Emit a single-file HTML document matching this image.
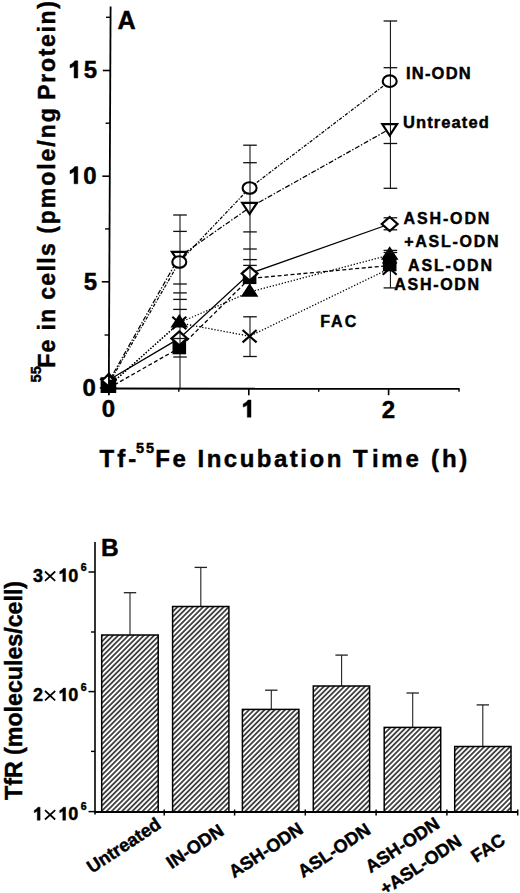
<!DOCTYPE html>
<html><head><meta charset="utf-8"><style>
html,body{margin:0;padding:0;background:#fff;width:520px;height:893px;overflow:hidden}
svg{display:block}
</style></head><body>
<svg width="520" height="893" viewBox="0 0 520 893">
<rect width="520" height="893" fill="#fff"/>
<line x1="110.59" y1="6.6" x2="108.80" y2="389.5" stroke="#000" stroke-width="1.8"/>
<line x1="102.79" y1="70.5" x2="110.29" y2="70.5" stroke="#000" stroke-width="1.6"/>
<line x1="102.30" y1="176.2" x2="109.80" y2="176.2" stroke="#000" stroke-width="1.6"/>
<line x1="101.80" y1="281.8" x2="109.30" y2="281.8" stroke="#000" stroke-width="1.6"/>
<line x1="106.04" y1="17.3" x2="110.54" y2="17.3" stroke="#000" stroke-width="1.4"/>
<line x1="105.55" y1="123.2" x2="110.05" y2="123.2" stroke="#000" stroke-width="1.4"/>
<line x1="105.05" y1="228.9" x2="109.55" y2="228.9" stroke="#000" stroke-width="1.4"/>
<line x1="104.55" y1="335.0" x2="109.05" y2="335.0" stroke="#000" stroke-width="1.4"/>
<line x1="108" y1="388.6" x2="459.5" y2="388.8" stroke="#000" stroke-width="2"/>
<line x1="108.8" y1="388.6" x2="108.8" y2="395.2" stroke="#000" stroke-width="1.6"/>
<line x1="248.8" y1="388.6" x2="248.8" y2="395.2" stroke="#000" stroke-width="1.6"/>
<line x1="388.6" y1="388.6" x2="388.6" y2="395.2" stroke="#000" stroke-width="1.6"/>
<line x1="178.8" y1="388.6" x2="178.8" y2="391.8" stroke="#000" stroke-width="1.4"/>
<line x1="318.7" y1="388.6" x2="318.7" y2="391.8" stroke="#000" stroke-width="1.4"/>
<line x1="459" y1="388.6" x2="459" y2="391.8" stroke="#000" stroke-width="1.4"/>
<path d="M77.80,78.00 L74.08,78.00 L74.08,65.88 C72.76,66.96 71.32,67.56 70.00,67.92 L70.00,64.68 C72.04,63.96 73.72,62.64 74.80,60.82 L77.80,60.82 Z" fill="#000" stroke="#000" stroke-width="0.45"/>
<text x="83.8" y="78.2" font-family="Liberation Sans" font-weight="bold" stroke="#000" stroke-width="0.45" font-size="24">5</text>
<path d="M77.80,183.80 L74.08,183.80 L74.08,171.68 C72.76,172.76 71.32,173.36 70.00,173.72 L70.00,170.48 C72.04,169.76 73.72,168.44 74.80,166.62 L77.80,166.62 Z" fill="#000" stroke="#000" stroke-width="0.45"/>
<text x="83.2" y="184.1" font-family="Liberation Sans" font-weight="bold" stroke="#000" stroke-width="0.45" font-size="24">0</text>
<text x="83.8" y="290.3" font-family="Liberation Sans" font-weight="bold" stroke="#000" stroke-width="0.45" font-size="24">5</text>
<text x="82.4" y="395.8" font-family="Liberation Sans" font-weight="bold" stroke="#000" stroke-width="0.45" font-size="24">0</text>
<text x="101.7" y="416.5" font-family="Liberation Sans" font-weight="bold" stroke="#000" stroke-width="0.45" font-size="24">0</text>
<path d="M251.00,417.20 L247.28,417.20 L247.28,405.08 C245.96,406.16 244.52,406.76 243.20,407.12 L243.20,403.88 C245.24,403.16 246.92,401.84 248.00,400.02 L251.00,400.02 Z" fill="#000" stroke="#000" stroke-width="0.45"/>
<text x="381.8" y="417.7" font-family="Liberation Sans" font-weight="bold" stroke="#000" stroke-width="0.45" font-size="24">2</text>
<text x="117.6" y="28.7" font-family="Liberation Sans" font-weight="bold" stroke="#000" stroke-width="0.45" font-size="25.2">A</text>
<text transform="translate(55.0,367.8) rotate(-90)" font-family="Liberation Sans" font-weight="bold" stroke="#000" stroke-width="0.45" font-size="23" letter-spacing="1.33">Fe in cells</text>
<text transform="translate(55.0,233.8) rotate(-90)" font-family="Liberation Sans" font-weight="bold" stroke="#000" stroke-width="0.45" font-size="23" letter-spacing="1.95">(pmole/ng</text>
<text transform="translate(55.0,99.8) rotate(-90)" font-family="Liberation Sans" font-weight="bold" stroke="#000" stroke-width="0.45" font-size="23" letter-spacing="1.7">Protein)</text>
<text transform="translate(41.1,382.6) rotate(-90)" font-family="Liberation Sans" font-weight="bold" stroke="#000" stroke-width="0.45" font-size="14.5" letter-spacing="0.2">55</text>
<text x="99.6" y="466.7" font-family="Liberation Sans" font-weight="bold" stroke="#000" stroke-width="0.45" font-size="24" letter-spacing="3">Tf-</text>
<text x="136.0" y="453.0" font-family="Liberation Sans" font-weight="bold" stroke="#000" stroke-width="0.45" font-size="14.5" letter-spacing="2">55</text>
<text x="155.3" y="466.7" font-family="Liberation Sans" font-weight="bold" stroke="#000" stroke-width="0.45" font-size="24" letter-spacing="2.5">Fe Incubation T</text>
<text x="372.0" y="466.7" font-family="Liberation Sans" font-weight="bold" stroke="#000" stroke-width="0.45" font-size="24" letter-spacing="2.5">im</text>
<text x="405.5" y="466.7" font-family="Liberation Sans" font-weight="bold" stroke="#000" stroke-width="0.45" font-size="24" letter-spacing="2.8">e (h)</text>
<text x="406.0" y="78.8" font-family="Liberation Sans" font-weight="bold" stroke="#000" stroke-width="0.45" font-size="16.5" letter-spacing="1.2">IN-ODN</text>
<text x="403.0" y="128.4" font-family="Liberation Sans" font-weight="bold" stroke="#000" stroke-width="0.45" font-size="16.5" letter-spacing="1.1">Untreated</text>
<text x="403.6" y="223.5" font-family="Liberation Sans" font-weight="bold" stroke="#000" stroke-width="0.45" font-size="16" letter-spacing="1.85">ASH-ODN</text>
<text x="404.2" y="246.6" font-family="Liberation Sans" font-weight="bold" stroke="#000" stroke-width="0.45" font-size="16" letter-spacing="1.75">+ASL-ODN</text>
<text x="408.0" y="271.3" font-family="Liberation Sans" font-weight="bold" stroke="#000" stroke-width="0.45" font-size="16" letter-spacing="1.85">ASL-ODN</text>
<text x="394.3" y="289.5" font-family="Liberation Sans" font-weight="bold" stroke="#000" stroke-width="0.45" font-size="16" letter-spacing="1.7">ASH-ODN</text>
<text x="320.2" y="327.1" font-family="Liberation Sans" font-weight="bold" stroke="#000" stroke-width="0.45" font-size="16" letter-spacing="2.0">FAC</text>
<polyline points="108.8,383.5 179.3,262.0 249.6,188.0 389.7,81.2" fill="none" stroke="#000" stroke-width="1.25" stroke-dasharray="3.2 1.5 1.2 1.5"/>
<polyline points="108.8,381.5 179.3,256.6 249.6,207.6 389.7,129.0" fill="none" stroke="#000" stroke-width="1.25" stroke-dasharray="5 1.8 1.4 1.8"/>
<polyline points="108.8,380.0 179.3,338.4 249.6,273.6 389.7,224.0" fill="none" stroke="#000" stroke-width="1.3"/>
<polyline points="108.8,386.0 179.3,322.8 249.6,292.0 389.7,255.0" fill="none" stroke="#000" stroke-width="1.3" stroke-dasharray="1.3 1.8"/>
<polyline points="108.8,388.0 179.3,348.0 249.6,278.5 389.7,265.5" fill="none" stroke="#000" stroke-width="1.3" stroke-dasharray="4 2.5"/>
<polyline points="108.8,386.0 179.3,323.0 249.6,336.2 389.7,268.5" fill="none" stroke="#000" stroke-width="1.3" stroke-dasharray="1.3 1.8"/>
<path d="M172.3,316.8 L186.3,329.2 M186.3,316.8 L172.3,329.2" stroke="#000" stroke-width="2.2" fill="none"/>
<path d="M242.6,330.0 L256.6,342.4 M256.6,330.0 L242.6,342.4" stroke="#000" stroke-width="2.2" fill="none"/>
<path d="M382.7,262.3 L396.7,274.7 M396.7,262.3 L382.7,274.7" stroke="#000" stroke-width="2.2" fill="none"/>
<rect x="172.5" y="340.7" width="13.6" height="13.6" fill="#000"/>
<rect x="242.79999999999998" y="270.5" width="13.6" height="13.6" fill="#000"/>
<rect x="382.9" y="257.7" width="13.6" height="13.6" fill="#000"/>
<polygon points="179.3,314.0 188.10000000000002,327.6 170.5,327.6" fill="#000"/>
<polygon points="249.6,283.2 258.4,296.8 240.79999999999998,296.8" fill="#000"/>
<polygon points="389.7,246.2 398.5,259.8 380.9,259.8" fill="#000"/>
<polygon points="179.3,331.4 187.20000000000002,338.4 179.3,345.4 171.4,338.4" fill="#fff" stroke="#000" stroke-width="2.2"/>
<polygon points="249.6,266.6 257.5,273.6 249.6,280.6 241.7,273.6" fill="#fff" stroke="#000" stroke-width="2.2"/>
<polygon points="389.7,217.0 397.59999999999997,224.0 389.7,231.0 381.8,224.0" fill="#fff" stroke="#000" stroke-width="2.2"/>
<polygon points="171.9,251.8 186.70000000000002,251.8 179.3,263.1" fill="#fff" stroke="#000" stroke-width="2.2" stroke-linejoin="miter"/>
<polygon points="242.2,202.79999999999998 257.0,202.79999999999998 249.6,214.1" fill="#fff" stroke="#000" stroke-width="2.2" stroke-linejoin="miter"/>
<polygon points="382.3,124.2 397.09999999999997,124.2 389.7,135.5" fill="#fff" stroke="#000" stroke-width="2.2" stroke-linejoin="miter"/>
<ellipse cx="179.3" cy="262.0" rx="7.0" ry="5.8" fill="#fff" stroke="#000" stroke-width="2.1"/>
<ellipse cx="249.6" cy="188.0" rx="7.0" ry="5.8" fill="#fff" stroke="#000" stroke-width="2.1"/>
<ellipse cx="389.7" cy="81.2" rx="7.0" ry="5.8" fill="#fff" stroke="#000" stroke-width="2.1"/>
<rect x="100.6" y="377.2" width="15.6" height="15.8" fill="#000"/>
<path d="M99.8,379 l2,0.6 M99.8,388 l2,-0.4 M117,379.5 l-2,0.5 M117,388.5 l-2,-0.5 M108.8,393 v2" stroke="#000" stroke-width="1.4"/>
<polygon points="108.8,373.8 115.2,380.4 108.8,387.0 102.4,380.4" fill="#000" stroke="#000" stroke-width="2.2" stroke-linejoin="miter"/>
<polygon points="108.3,376.3 103.4,380.5 108.3,384.7" fill="#fff"/>
<polygon points="109.6,377.3 112.2,379.8 109.6,379.8" fill="#ddd"/>
<line x1="108.8" y1="372" x2="108.8" y2="386" stroke="#000" stroke-width="1.4"/>
<line x1="180.0" y1="215" x2="180.0" y2="388" stroke="#000" stroke-width="1.0"/>
<line x1="173.2" y1="215" x2="186.8" y2="215" stroke="#111" stroke-width="1.3"/>
<line x1="173.2" y1="231.4" x2="186.8" y2="231.4" stroke="#111" stroke-width="1.3"/>
<line x1="173.2" y1="284" x2="186.8" y2="284" stroke="#111" stroke-width="1.3"/>
<line x1="173.2" y1="292.9" x2="186.8" y2="292.9" stroke="#111" stroke-width="1.3"/>
<line x1="173.2" y1="299.4" x2="186.8" y2="299.4" stroke="#111" stroke-width="1.3"/>
<line x1="173.2" y1="309.4" x2="186.8" y2="309.4" stroke="#111" stroke-width="1.3"/>
<line x1="173.2" y1="338.5" x2="186.8" y2="338.5" stroke="#111" stroke-width="1.3"/>
<line x1="173.2" y1="357" x2="186.8" y2="357" stroke="#111" stroke-width="1.3"/>
<line x1="250.0" y1="145.2" x2="250.0" y2="296" stroke="#000" stroke-width="1.0"/>
<line x1="250.0" y1="316.8" x2="250.0" y2="356.5" stroke="#000" stroke-width="1.0"/>
<line x1="243.2" y1="145.2" x2="256.8" y2="145.2" stroke="#111" stroke-width="1.3"/>
<line x1="243.2" y1="162.7" x2="256.8" y2="162.7" stroke="#111" stroke-width="1.3"/>
<line x1="243.2" y1="231.9" x2="256.8" y2="231.9" stroke="#111" stroke-width="1.3"/>
<line x1="243.2" y1="249" x2="256.8" y2="249" stroke="#111" stroke-width="1.3"/>
<line x1="243.2" y1="259.6" x2="256.8" y2="259.6" stroke="#111" stroke-width="1.3"/>
<line x1="243.2" y1="265.4" x2="256.8" y2="265.4" stroke="#111" stroke-width="1.3"/>
<line x1="243.2" y1="316.8" x2="256.8" y2="316.8" stroke="#111" stroke-width="1.3"/>
<line x1="243.2" y1="356.5" x2="256.8" y2="356.5" stroke="#111" stroke-width="1.3"/>
<line x1="390.4" y1="21" x2="390.4" y2="188.3" stroke="#000" stroke-width="1.0"/>
<line x1="390.4" y1="250" x2="390.4" y2="287.9" stroke="#000" stroke-width="1.0"/>
<line x1="383.59999999999997" y1="21" x2="397.2" y2="21" stroke="#111" stroke-width="1.3"/>
<line x1="383.59999999999997" y1="67.7" x2="397.2" y2="67.7" stroke="#111" stroke-width="1.3"/>
<line x1="383.59999999999997" y1="143.5" x2="397.2" y2="143.5" stroke="#111" stroke-width="1.3"/>
<line x1="383.59999999999997" y1="188.3" x2="397.2" y2="188.3" stroke="#111" stroke-width="1.3"/>
<line x1="383.59999999999997" y1="217.8" x2="397.2" y2="217.8" stroke="#111" stroke-width="1.3"/>
<line x1="383.59999999999997" y1="229.8" x2="397.2" y2="229.8" stroke="#111" stroke-width="1.3"/>
<line x1="383.59999999999997" y1="250.4" x2="397.2" y2="250.4" stroke="#111" stroke-width="1.3"/>
<line x1="383.59999999999997" y1="252.5" x2="397.2" y2="252.5" stroke="#111" stroke-width="1.3"/>
<line x1="383.59999999999997" y1="287.9" x2="397.2" y2="287.9" stroke="#111" stroke-width="1.3"/>
<defs><pattern id="h" patternUnits="userSpaceOnUse" x="1.085" width="3.63" height="3.63" patternTransform="rotate(45)"><rect width="3.63" height="3.63" fill="#fff"/><line x1="1.815" y1="-1" x2="1.815" y2="5" stroke="#000" stroke-width="1.35"/></pattern></defs>
<line x1="130.0" y1="592.7" x2="130.0" y2="635.0" stroke="#222" stroke-width="1.1"/>
<line x1="123.8" y1="592.7" x2="136.2" y2="592.7" stroke="#222" stroke-width="1.3"/>
<rect x="101.7" y="635.0" width="56.499999999999986" height="177.0" fill="url(#h)" stroke="#000" stroke-width="1.5"/>
<line x1="200.8" y1="567.4" x2="200.8" y2="606.5" stroke="#222" stroke-width="1.1"/>
<line x1="194.60000000000002" y1="567.4" x2="207.0" y2="567.4" stroke="#222" stroke-width="1.3"/>
<rect x="172.6" y="606.5" width="56.30000000000001" height="205.5" fill="url(#h)" stroke="#000" stroke-width="1.5"/>
<line x1="271.3" y1="690.2" x2="271.3" y2="709.4" stroke="#222" stroke-width="1.1"/>
<line x1="265.1" y1="690.2" x2="277.5" y2="690.2" stroke="#222" stroke-width="1.3"/>
<rect x="242.4" y="709.4" width="56.49999999999997" height="102.60000000000002" fill="url(#h)" stroke="#000" stroke-width="1.5"/>
<line x1="341.6" y1="655.1" x2="341.6" y2="686.0" stroke="#222" stroke-width="1.1"/>
<line x1="335.40000000000003" y1="655.1" x2="347.8" y2="655.1" stroke="#222" stroke-width="1.3"/>
<rect x="313.3" y="686.0" width="56.30000000000001" height="126.0" fill="url(#h)" stroke="#000" stroke-width="1.5"/>
<line x1="412.7" y1="693.0" x2="412.7" y2="727.4" stroke="#222" stroke-width="1.1"/>
<line x1="406.5" y1="693.0" x2="418.9" y2="693.0" stroke="#222" stroke-width="1.3"/>
<rect x="384.2" y="727.4" width="56.5" height="84.60000000000002" fill="url(#h)" stroke="#000" stroke-width="1.5"/>
<line x1="482.8" y1="704.9" x2="482.8" y2="746.5" stroke="#222" stroke-width="1.1"/>
<line x1="476.6" y1="704.9" x2="489.0" y2="704.9" stroke="#222" stroke-width="1.3"/>
<rect x="454.7" y="746.5" width="56.30000000000001" height="65.5" fill="url(#h)" stroke="#000" stroke-width="1.5"/>
<line x1="95" y1="542" x2="95" y2="814.5" stroke="#000" stroke-width="1.6"/>
<line x1="94.5" y1="812" x2="518" y2="812" stroke="#000" stroke-width="1.8"/>
<line x1="88.5" y1="572.0" x2="95" y2="572.0" stroke="#000" stroke-width="1.5"/>
<line x1="88.5" y1="691.6" x2="95" y2="691.6" stroke="#000" stroke-width="1.5"/>
<line x1="88.5" y1="811.6" x2="95" y2="811.6" stroke="#000" stroke-width="1.5"/>
<line x1="91" y1="632.0" x2="95" y2="632.0" stroke="#000" stroke-width="1.4"/>
<line x1="91" y1="751.4" x2="95" y2="751.4" stroke="#000" stroke-width="1.4"/>
<line x1="164.2" y1="809.5" x2="164.2" y2="815.5" stroke="#000" stroke-width="1.5"/>
<line x1="234.6" y1="809.5" x2="234.6" y2="815.5" stroke="#000" stroke-width="1.5"/>
<line x1="305.3" y1="809.5" x2="305.3" y2="815.5" stroke="#000" stroke-width="1.5"/>
<line x1="376.1" y1="809.5" x2="376.1" y2="815.5" stroke="#000" stroke-width="1.5"/>
<line x1="446.9" y1="809.5" x2="446.9" y2="815.5" stroke="#000" stroke-width="1.5"/>
<line x1="517.7" y1="809.5" x2="517.7" y2="815.5" stroke="#000" stroke-width="1.5"/>
<text x="101.0" y="556.3" font-family="Liberation Sans" font-weight="bold" stroke="#000" stroke-width="0.45" font-size="24.5">B</text>
<text x="33.0" y="581.5" font-family="Liberation Sans" font-weight="bold" stroke="#000" stroke-width="0.45" font-size="18">3</text>
<path d="M45.0,571.5 L55.2,580.8 M55.2,571.5 L45.0,580.8" stroke="#000" stroke-width="1.7"/>
<path d="M65.60,581.50 L62.81,581.50 L62.81,572.41 C61.82,573.22 60.74,573.67 59.75,573.94 L59.75,571.51 C61.28,570.97 62.54,569.98 63.35,568.61 L65.60,568.61 Z" fill="#000" stroke="#000" stroke-width="0.45"/>
<text x="68.3" y="581.5" font-family="Liberation Sans" font-weight="bold" stroke="#000" stroke-width="0.45" font-size="18">0</text>
<text x="80.8" y="571.2" font-family="Liberation Sans" font-weight="bold" stroke="#000" stroke-width="0.45" font-size="10.5">6</text>
<text x="33.0" y="701.0" font-family="Liberation Sans" font-weight="bold" stroke="#000" stroke-width="0.45" font-size="18">2</text>
<path d="M45.0,691.0 L55.2,700.3 M55.2,691.0 L45.0,700.3" stroke="#000" stroke-width="1.7"/>
<path d="M65.60,701.00 L62.81,701.00 L62.81,691.91 C61.82,692.72 60.74,693.17 59.75,693.44 L59.75,691.01 C61.28,690.47 62.54,689.48 63.35,688.11 L65.60,688.11 Z" fill="#000" stroke="#000" stroke-width="0.45"/>
<text x="68.3" y="701.0" font-family="Liberation Sans" font-weight="bold" stroke="#000" stroke-width="0.45" font-size="18">0</text>
<text x="80.8" y="690.7" font-family="Liberation Sans" font-weight="bold" stroke="#000" stroke-width="0.45" font-size="10.5">6</text>
<path d="M40.10,820.20 L37.31,820.20 L37.31,811.11 C36.32,811.92 35.24,812.37 34.25,812.64 L34.25,810.21 C35.78,809.67 37.04,808.68 37.85,807.31 L40.10,807.31 Z" fill="#000" stroke="#000" stroke-width="0.45"/>
<path d="M45.0,810.2 L55.2,819.5 M55.2,810.2 L45.0,819.5" stroke="#000" stroke-width="1.7"/>
<path d="M65.60,820.20 L62.81,820.20 L62.81,811.11 C61.82,811.92 60.74,812.37 59.75,812.64 L59.75,810.21 C61.28,809.67 62.54,808.68 63.35,807.31 L65.60,807.31 Z" fill="#000" stroke="#000" stroke-width="0.45"/>
<text x="68.3" y="820.2" font-family="Liberation Sans" font-weight="bold" stroke="#000" stroke-width="0.45" font-size="18">0</text>
<text x="80.8" y="809.9000000000001" font-family="Liberation Sans" font-weight="bold" stroke="#000" stroke-width="0.45" font-size="10.5">6</text>
<text transform="translate(22.0,800) rotate(-90)" font-family="Liberation Sans" font-weight="bold" stroke="#000" stroke-width="0.45" font-size="23.2">TfR (molecules/cell)</text>
<text transform="translate(162.3,827.2) rotate(-33.5)" font-family="Liberation Sans" font-weight="bold" stroke="#000" stroke-width="0.45" font-size="18.1" text-anchor="end">Untreated</text>
<text transform="translate(225.1,833.8) rotate(-33.5)" font-family="Liberation Sans" font-weight="bold" stroke="#000" stroke-width="0.45" font-size="18.1" text-anchor="end">IN-ODN</text>
<text transform="translate(304.5,832.0) rotate(-33.5)" font-family="Liberation Sans" font-weight="bold" stroke="#000" stroke-width="0.45" font-size="18.1" text-anchor="end">ASH-ODN</text>
<text transform="translate(371.8,832.7) rotate(-33.5)" font-family="Liberation Sans" font-weight="bold" stroke="#000" stroke-width="0.45" font-size="18.1" text-anchor="end">ASL-ODN</text>
<text transform="translate(441.0,826.8) rotate(-33.5)" font-family="Liberation Sans" font-weight="bold" stroke="#000" stroke-width="0.45" font-size="18.1" text-anchor="end">ASH-ODN</text>
<text transform="translate(462.8,844.2) rotate(-33.5)" font-family="Liberation Sans" font-weight="bold" stroke="#000" stroke-width="0.45" font-size="18.1" text-anchor="end">+ASL-ODN</text>
<text transform="translate(506.5,843.0) rotate(-33.5)" font-family="Liberation Sans" font-weight="bold" stroke="#000" stroke-width="0.45" font-size="18.1" text-anchor="end">FAC</text>
</svg>
</body></html>
